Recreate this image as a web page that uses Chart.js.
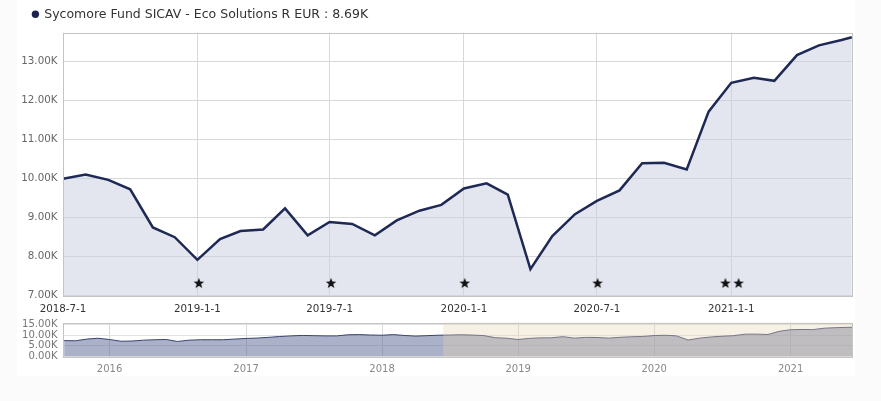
<!DOCTYPE html>
<html><head><meta charset="utf-8">
<script src="https://cdn.jsdelivr.net/npm/chart.js@4.4.0/dist/chart.umd.min.js"></script>
<style>
html,body{margin:0;padding:0;background:#fbfbfb;width:881px;height:401px;overflow:hidden;}
#panel{position:absolute;left:17px;top:0;width:838px;height:376px;background:#fff;}
#main{position:absolute;left:0;top:0;width:881px;height:318px;}
#nav{position:absolute;left:0;top:311px;width:881px;height:70px;}
</style></head><body>
<div id="panel"></div>
<canvas id="main" width="881" height="318"></canvas>
<canvas id="nav" width="881" height="70"></canvas>
<script>
// ---- data ----
const seriesName = 'Sycomore Fund SICAV - Eco Solutions R EUR';
const legendValue = '8.69K';

const fundDates = ['2018-7-1','2018-8-1','2018-9-1','2018-10-1','2018-11-1','2018-12-1',
  '2019-1-1','2019-2-1','2019-3-1','2019-4-1','2019-5-1','2019-6-1','2019-7-1','2019-8-1','2019-9-1','2019-10-1','2019-11-1','2019-12-1',
  '2020-1-1','2020-2-1','2020-3-1','2020-4-1','2020-5-1','2020-6-1','2020-7-1','2020-8-1','2020-9-1','2020-10-1','2020-11-1','2020-12-1',
  '2021-1-1','2021-2-1','2021-3-1','2021-4-1','2021-5-1','2021-6-1','2021-6-15'];
const fundValues = [10.00,10.11,9.97,9.73,8.75,8.50,
  7.92,8.45,8.66,8.70,9.24,8.55,8.89,8.84,8.55,8.93,9.18,9.33,
  9.75,9.88,9.59,7.68,8.53,9.09,9.43,9.70,10.40,10.41,10.24,11.72,
  12.46,12.59,12.51,13.17,13.42,13.56,13.63]; // thousands

const historyDates = ['2015-9-1','2015-10-1','2015-11-1','2015-12-1',
  '2016-1-1','2016-2-1','2016-3-1','2016-4-1','2016-5-1','2016-6-1','2016-7-1','2016-8-1','2016-9-1','2016-10-1','2016-11-1','2016-12-1',
  '2017-1-1','2017-2-1','2017-3-1','2017-4-1','2017-5-1','2017-6-1','2017-7-1','2017-8-1','2017-9-1','2017-10-1','2017-11-1','2017-12-1',
  '2018-1-1','2018-2-1','2018-3-1','2018-4-1','2018-5-1','2018-6-1'];
const historyValues = [7.4,7.3,8.1,8.5,
  7.9,7.1,7.2,7.6,7.8,7.9,7.0,7.6,7.8,7.8,7.8,8.1,
  8.4,8.6,8.9,9.3,9.6,9.8,9.7,9.6,9.6,10.1,10.2,10.0,
  9.9,10.2,9.8,9.5,9.7,9.9]; // thousands

const starDates = ['2019-1-3','2019-7-3','2020-1-2','2020-7-2','2020-12-24','2021-1-11'];
const starLevel = 7.325; // thousands

const xTickLabels = ['2018-7-1','2019-1-1','2019-7-1','2020-1-1','2020-7-1','2021-1-1'];
const yTickValues = [7000, 8000, 9000, 10000, 11000, 12000, 13000];
const navYearLabels = ['2016','2017','2018','2019','2020','2021'];
const navYTickValues = [0, 5000, 10000, 15000];
const mainRange = ['2018-7-1','2021-6-16'];
const navRange = ['2015-8-29','2021-6-16'];
const navSelection = ['2018-6-14','2021-6-16'];

// ---- helpers ----
const toTs = s => { const p = s.split('-').map(Number); return Date.UTC(p[0], p[1]-1, p[2]); };
const fmtK = v => (v/1000).toFixed(2) + 'K';
const FONT = 'DejaVu Sans';

const starImg = document.createElement('canvas');
starImg.width = 12; starImg.height = 12;
(function(){
  const c = starImg.getContext('2d');
  c.fillStyle = '#111';
  c.beginPath();
  for (let i = 0; i < 10; i++) {
    const r = i % 2 === 0 ? 5.6 : 2.3;
    const a = -Math.PI/2 + i*Math.PI/5;
    const px = 6 + r*Math.cos(a), py = 6.4 + r*Math.sin(a);
    i === 0 ? c.moveTo(px, py) : c.lineTo(px, py);
  }
  c.closePath(); c.fill();
})();

const borderPlugin = {
  id: 'plotBorder',
  afterDatasetsDraw(chart) {
    const a = chart.chartArea, ctx = chart.ctx;
    ctx.save();
    ctx.strokeStyle = '#c4c4c4'; ctx.lineWidth = 1;
    ctx.strokeRect(Math.round(a.left) + 0.5, Math.round(a.top) + 0.5, Math.round(a.right - a.left) - 1, Math.round(a.bottom - a.top));
    ctx.restore();
  }
};

const navMaskPlugin = {
  id: 'navMask',
  afterDatasetsDraw(chart) {
    const a = chart.chartArea, ctx = chart.ctx, xs = chart.scales.x;
    const x1 = xs.getPixelForValue(toTs(navSelection[0]));
    const x2 = Math.min(a.right, xs.getPixelForValue(toTs(navSelection[1])));
    ctx.save();
    ctx.fillStyle = 'rgba(232,212,178,0.35)';
    ctx.fillRect(x1, a.top, x2 - x1, a.bottom - a.top);
    ctx.restore();
  }
};

// ---- main chart ----
new Chart(document.getElementById('main'), {
  type: 'line',
  data: {
    datasets: [
      {
        label: seriesName,
        data: fundDates.map((d, i) => ({x: toTs(d), y: fundValues[i]*1000})),
        borderColor: '#1f2955', borderWidth: 2.5,
        backgroundColor: 'rgba(199,205,223,0.5)', fill: 'start',
        pointRadius: 0, tension: 0, order: 2
      },
      {
        type: 'scatter', label: 'rating',
        data: starDates.map(d => ({x: toTs(d), y: starLevel*1000})),
        pointStyle: starImg, pointRadius: 6, showLine: false, order: 1
      }
    ]
  },
  options: {
    responsive: false, animation: false, events: [],
    layout: {padding: {left: 0, right: 28.5, top: -24.8, bottom: 0}},
    plugins: {
      tooltip: {enabled: false},
      legend: {
        display: true, position: 'top', align: 'start',
        labels: {
          usePointStyle: true, pointStyle: 'circle', boxWidth: 5.2, boxHeight: 5.2, padding: 32.8,
          color: '#333', font: {family: FONT, size: 12.5},
          generateLabels: () => [{
            text: seriesName + ' : ' + legendValue, fillStyle: '#1c2351', strokeStyle: '#1c2351',
            fontColor: '#333', lineWidth: 0, pointStyle: 'circle', datasetIndex: 0, hidden: false
          }]
        }
      }
    },
    scales: {
      x: {
        type: 'linear', min: toTs(mainRange[0]), max: toTs(mainRange[1]),
        afterBuildTicks: s => { s.ticks = xTickLabels.map(l => ({value: toTs(l)})); },
        ticks: {callback: (v, i) => xTickLabels[i], color: '#333', font: {family: FONT, size: 10.3}, padding: 7, maxRotation: 0, autoSkip: false},
        grid: {color: '#d9d9d9', drawTicks: false},
        border: {display: false},
        afterFit: s => { s.height = 22.3; }
      },
      xTop: {
        type: 'linear', position: 'top', display: true,
        ticks: {display: false}, grid: {display: false, drawTicks: false}, border: {display: false},
        afterFit: s => { s.height = 2.2; }
      },
      y: {
        min: 7000, max: 13745,
        afterBuildTicks: s => { s.ticks = yTickValues.map(v => ({value: v})); },
        ticks: {callback: v => fmtK(v), color: '#666', padding: 5.5, font: {family: FONT, size: 10.3}, autoSkip: false},
        grid: {color: '#d9d9d9', drawTicks: false},
        border: {display: false},
        afterFit: s => { s.width = 63; }
      }
    }
  },
  plugins: [borderPlugin]
});

// ---- navigator ----
const navDates = historyDates.concat(fundDates);
const navValues = historyValues.concat(fundValues);
new Chart(document.getElementById('nav'), {
  type: 'line',
  data: {
    datasets: [{
      data: navDates.map((d, i) => ({x: toTs(d), y: navValues[i]*1000})),
      borderColor: '#3b4470', borderWidth: 1,
      backgroundColor: 'rgba(87,99,147,0.5)', fill: 'start',
      pointRadius: 0, tension: 0
    }]
  },
  options: {
    responsive: false, animation: false, events: [],
    layout: {padding: {left: 0, right: 28.5, top: 7.3, bottom: 0}},
    plugins: {legend: {display: false}, tooltip: {enabled: false}},
    scales: {
      x: {
        type: 'linear', min: toTs(navRange[0]), max: toTs(navRange[1]),
        afterBuildTicks: s => { s.ticks = navYearLabels.map(y => ({value: Date.UTC(+y, 0, 1)})); },
        ticks: {callback: (v, i) => navYearLabels[i], color: '#888', font: {family: FONT, size: 10}, padding: 7, maxRotation: 0, autoSkip: false},
        grid: {color: '#d9d9d9', drawTicks: false},
        border: {display: false},
        afterFit: s => { s.height = 24.5; }
      },
      y: {
        min: 0, max: 15800,
        afterBuildTicks: s => { s.ticks = navYTickValues.map(v => ({value: v})); },
        ticks: {callback: v => fmtK(v), color: '#777', padding: 5.5, font: {family: FONT, size: 10.1}, autoSkip: false},
        grid: {color: '#e2e2e2', drawTicks: false},
        border: {display: false},
        afterFit: s => { s.width = 63; }
      }
    }
  },
  plugins: [navMaskPlugin, borderPlugin]
});
</script>
</body></html>
